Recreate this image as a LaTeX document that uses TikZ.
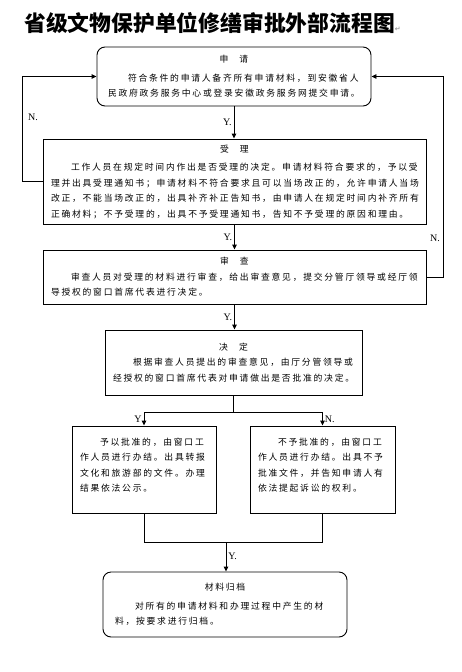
\documentclass[tikz,border=0pt]{standalone}
\usepackage{fontspec}
\usetikzlibrary{arrows.meta,calc}
\newfontfamily\cjk[LetterSpace=20]{Noto Sans CJK SC}
\newfontfamily\cjkhead{Noto Sans CJK SC}
\newfontfamily\latin{Liberation Serif}
\newfontfamily\sym{DejaVu Sans}
\tikzset{
  box/.style={draw, line width=.9pt, align=left, inner xsep=8pt, inner ysep=0pt,
    font=\cjk\fontsize{8.8}{15.5}\selectfont},
  roundbox/.style={box, rounded corners=8pt},
  arr/.style={-{Triangle[length=5pt,width=4.5pt]}, line width=.9pt},
  line/.style={line width=.9pt},
  yn/.style={font=\latin\fontsize{10}{10}\selectfont, inner sep=2pt}
}
\begin{document}
\begin{tikzpicture}[x=1pt,y=-1pt]
\useasboundingbox[fill=white] (0,0) rectangle (462,672);
\node[anchor=west, inner sep=0pt, font=\cjkhead\bfseries\fontsize{21.8}{22}\selectfont] (title) at (24,23)
  {省级文物保护单位修缮审批外部流程图{\sym\mdseries\color{gray}\fontsize{7}{7}\selectfont ↵}};
\node[roundbox, inner xsep=11pt, text width=252pt, minimum height=59pt] (apply) at (234,76.5)
  {\makebox[\linewidth]{申\hspace{11pt}请}\\[3pt]
   \hspace*{20pt}符合条件的申请人备齐所有申请材料，到安徽省人\\
   民政府政务服务中心或登录安徽政务服务网提交申请。};
\node[box, text width=367pt, minimum height=85pt] (accept) at (234.5,181.5)
  {\makebox[\linewidth]{受\hspace{11pt}理}\\[3pt]
   \hspace*{20pt}工作人员在规定时间内作出是否受理的决定。申请材料符合要求的，予以受\\
   理并出具受理通知书；申请材料不符合要求且可以当场改正的，允许申请人当场\\
   改正，不能当场改正的，出具补齐补正告知书，由申请人在规定时间内补齐所有\\
   正确材料；不予受理的，出具不予受理通知书，告知不予受理的原因和理由。};
\node[box, text width=367pt, minimum height=54pt] (review) at (234.5,277)
  {\makebox[\linewidth]{审\hspace{11pt}查}\\
   \hspace*{20pt}审查人员对受理的材料进行审查，给出审查意见，提交分管厅领导或经厅领\\
   导授权的窗口首席代表进行决定。};
\node[box, text width=241pt, minimum height=65pt] (decide) at (233.5,362.5)
  {\makebox[\linewidth]{决\hspace{11pt}定}\\
   \hspace*{20pt}根据审查人员提出的审查意见，由厅分管领导或\\
   经授权的窗口首席代表对申请做出是否批准的决定。};
\node[box, text width=128pt, minimum height=87pt] (approve) at (144,469.5)
  {\hspace*{20pt}予以批准的，由窗口工\\
   作人员进行办结。出具转报\\
   文化和旅游部的文件。办理\\
   结果依法公示。\\[-6pt]\mbox{}};
\node[box, text width=129pt, minimum height=87pt] (reject) at (322.5,469.5)
  {\hspace*{20pt}不予批准的，由窗口工\\
   作人员进行办结。出具不予\\
   批准文件，并告知申请人有\\
   依法提起诉讼的权利。\\[-6pt]\mbox{}};
\node[roundbox, inner xsep=12pt, text width=220pt, minimum height=65pt] (archive) at (225,604.5)
  {\makebox[\linewidth]{材料归档}\\[3pt]
   \hspace*{20pt}对所有的申请材料和办理过程中产生的材\\
   料，按要求进行归档。};
\draw[arr] (apply.south) -- (apply.south |- accept.north) node[yn, midway, left] (y1) {Y.};
\draw[arr] (accept.south) -- (accept.south |- review.north) node[yn, midway, left] (y2) {Y.};
\draw[arr] (review.south) -- (review.south |- decide.north) node[yn, midway, left] (y3) {Y.};
\draw[line] (decide.south) -- ++(0,17) coordinate (split);
\draw[arr] (split) -| (approve.north) node[yn, pos=.75, left] (y4) {Y};
\draw[arr] (split) -| (reject.north) node[yn, pos=.75, right] (n3) {N.};
\coordinate (join) at (226,542);
\draw[line] (approve.south) |- (join);
\draw[line] (reject.south) |- (join);
\draw[arr] (join) -- (join |- archive.north) node[yn, midway, right] (y5) {Y.};
\draw[arr] (accept.west) -- ++(-20,0) |- (apply.west);
\draw[arr] (review.east) -- ++(17,0) |- (apply.east);
\node[yn] (n1) at (33,117) {N.};
\node[yn] (n2) at (435,238) {N.};
\end{tikzpicture}
\end{document}
